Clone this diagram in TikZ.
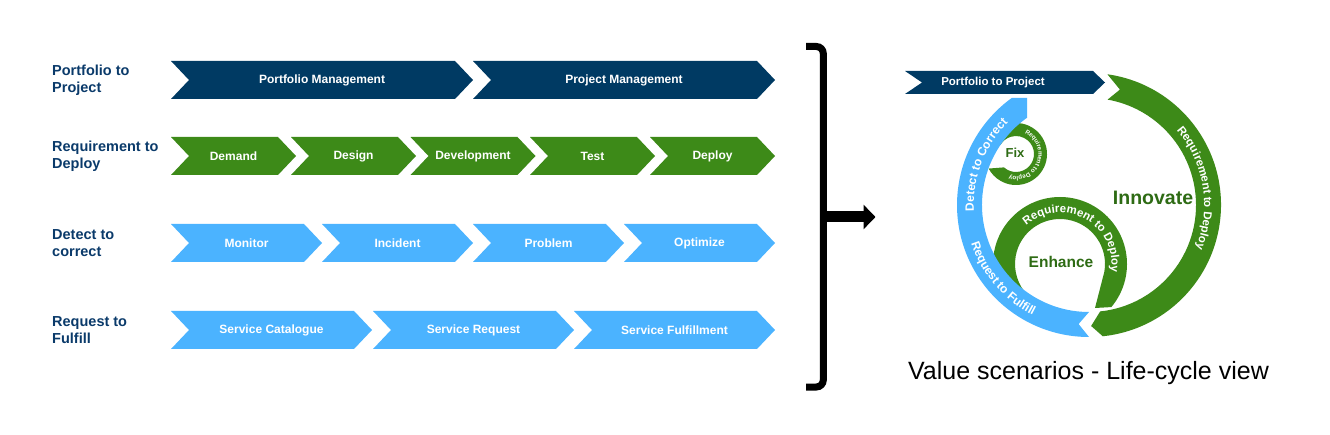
\documentclass[tikz,border=0pt]{standalone}
\usepackage{fontspec}
\setmainfont{Liberation Sans}
\usetikzlibrary{decorations.text,arrows.meta}
\definecolor{dblue}{HTML}{003A63}
\definecolor{cgreen}{HTML}{3D8A18}
\definecolor{lblue}{HTML}{4BB3FF}
\definecolor{tgreen}{HTML}{2E6B14}
\definecolor{labblue}{HTML}{0A3A6A}
\newcommand\mychev[6]{%
  \fill[#5] (#2,#3-19) -- ++(#4-18,0) -- ++(18,19) -- ++(-18,19) -- ++(18-#4,0) -- ++(18,-19) -- cycle;
  \node[chevtext] (#1) at (#2+#4/2,#3) {#6};}
\tikzset{
  chevtext/.style={text=white, inner sep=0pt, font=\bfseries\fontsize{12}{14}\selectfont},
  rowlab/.style={text=labblue, anchor=west, align=left, inner sep=0pt, font=\bfseries\fontsize{14.5}{17}\selectfont},
  ringtext/.style={text=tgreen, inner sep=0pt},
}
\begin{document}
\begin{tikzpicture}[x=1pt,y=-1pt]
\useasboundingbox (0,0) rectangle (1330,435);
% left labels
\node[rowlab] (l1) at (52,80) {Portfolio to\\Project};
\node[rowlab] (l2) at (52,156) {Requirement to\\Deploy};
\node[rowlab] (l3) at (52,243) {Detect to\\correct};
\node[rowlab] (l4) at (52,330) {Request to\\Fulfill};
% chevrons
\mychev{pm}{171}{80}{302}{dblue}{Portfolio Management}
\mychev{prm}{473}{80}{302}{dblue}{Project Management}
\mychev{dem}{171}{156}{125}{cgreen}{Demand}
\mychev{des}{291}{156}{125}{cgreen}{Design}
\mychev{dev}{410.5}{156}{125}{cgreen}{Development}
\mychev{tst}{530}{156}{125}{cgreen}{Test}
\mychev{dep}{650}{156}{125}{cgreen}{Deploy}
\mychev{mon}{171}{243}{151}{lblue}{Monitor}
\mychev{inc}{322}{243}{151}{lblue}{Incident}
\mychev{prb}{473}{243}{151}{lblue}{Problem}
\mychev{opt}{624}{243}{151}{lblue}{Optimize}
\mychev{sc}{171}{330}{201}{lblue}{Service Catalogue}
\mychev{sr}{373}{330}{201}{lblue}{Service Request}
\mychev{sf}{574}{330}{201}{lblue}{Service Fulfillment}
% bracket and arrow
\coordinate (bk) at (823.3,217);
\coordinate (tipA) at (875.5,217);
\draw[line width=7pt, rounded corners=7pt] (806,46.5) -- (823.3,46.5) -- (823.3,387) -- (806,387);
\draw[line width=11pt, -{Triangle[length=12pt,width=24pt]}] (bk) -- (tipA);
% ---- life-cycle view ----
% Enhance ring
\begin{scope}[shift={(1060,264)}]
\fill[cgreen] (135:67) arc[start angle=135, end angle=400, radius=67] -- (35,44) -- (370:45) arc[start angle=370, end angle=135, radius=45] -- cycle;
\end{scope}
% Fix ring
\begin{scope}[shift={(1016,154)}]
\fill[cgreen] (210:31) arc[start angle=210, end angle=512, radius=31] -- (492:18) arc[start angle=492, end angle=210, radius=18] -- cycle;
\end{scope}
% big green ring
\begin{scope}[shift={(1089,205)}]
\fill[cgreen] (-82:132) arc[start angle=-82, end angle=84, radius=132] -- (89:121) -- (84:107) arc[start angle=84, end angle=-80, radius=107] -- (-75:119.5) -- cycle;
\end{scope}
% blue ring
\begin{scope}
\clip (0,98) -- (1027,98) -- (1027,205) -- (1330,205) -- (1330,435) -- (0,435) -- cycle;
\begin{scope}[shift={(1089,205)}]
\fill[lblue] (90:132) arc[start angle=90, end angle=250, radius=132] -- (250:107) arc[start angle=250, end angle=90, radius=107] -- (95:119.5) -- cycle;
\end{scope}
\end{scope}
% banner
\fill[dblue] (905,71) -- (1093,71) -- (1105,82.5) -- (1093,94) -- (905,94) -- (922,82.5) -- cycle;
\node[chevtext, font=\bfseries\fontsize{11.5}{13}\selectfont] (p2p) at (993,82.5) {Portfolio to Project};
% texts along rings
\begin{scope}[shift={(1089,205)}]
\path[decorate, decoration={text along path, text color=white,
  text={|\bfseries\fontsize{12}{12}\selectfont|Detect to Correct}}]
  (177:115.2) arc[start angle=177, end angle=240, radius=115.2];
\path[decorate, decoration={text along path, text color=white,
  text={|\bfseries\fontsize{12}{12}\selectfont|Request to Fulfill}}]
  (162:123.8) arc[start angle=162, end angle=100, radius=123.8];
\path[decorate, decoration={text along path, text color=white,
  text={|\bfseries\fontsize{11.5}{12}\selectfont|Requirement to Deploy}}]
  (-40.5:115.2) arc[start angle=-40.5, end angle=40, radius=115.2];
\end{scope}
\begin{scope}[shift={(1060,264)}]
\path[decorate, decoration={text along path, text color=white,
  text={|\bfseries\fontsize{11.5}{12}\selectfont|Requirement to Deploy}}]
  (-131:51.4) arc[start angle=-131, end angle=30, radius=51.4];
\end{scope}
\begin{scope}[shift={(1016,154)}]
\path[decorate, decoration={text along path, text color=white,
  text={|\bfseries\fontsize{6.2}{7}\selectfont|Requirement to Deploy}}]
  (-67:22.3) arc[start angle=-67, end angle=130, radius=22.3];
\end{scope}
\node[ringtext, font=\bfseries\fontsize{19.5}{22}\selectfont] (inn) at (1153,198) {Innovate};
\node[ringtext, font=\bfseries\fontsize{15.5}{18}\selectfont] (enh) at (1061,262) {Enhance};
\node[ringtext, font=\bfseries\fontsize{13}{15}\selectfont] (fix) at (1015,153) {Fix};
\node[inner sep=0pt, font=\fontsize{25}{28}\selectfont] (vs) at (1088.5,373) {Value scenarios - Life-cycle view};
\end{tikzpicture}
\end{document}
